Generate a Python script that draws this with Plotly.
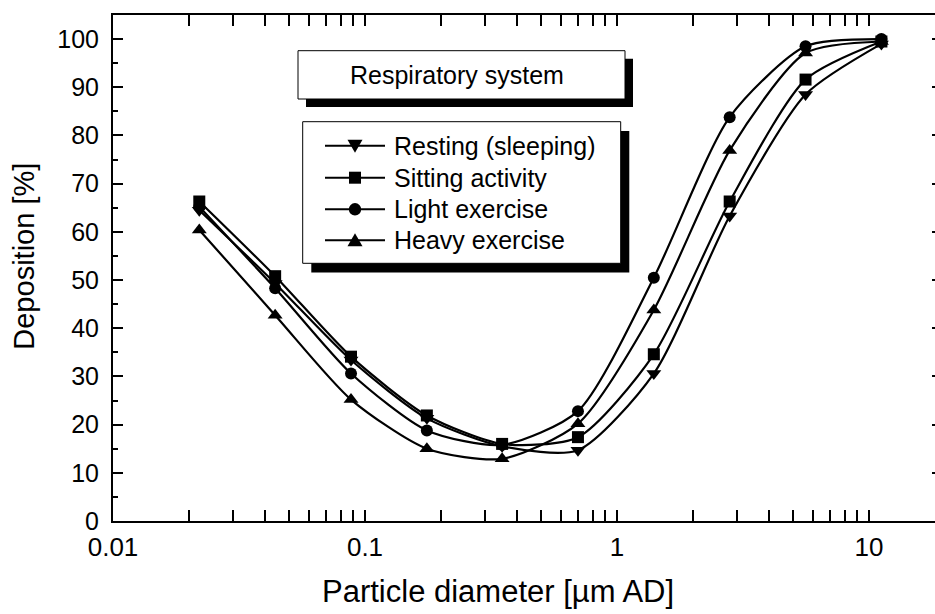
import plotly.graph_objects as go

# Particle aerodynamic diameter (µm) and total respiratory deposition (%)
diameter = [0.022, 0.044, 0.088, 0.176, 0.35, 0.7, 1.4, 2.8, 5.6, 11.2]

resting = [64.5, 49.3, 33.4, 21.3, 15.5, 14.7, 30.6, 63.3, 88.5, 99.0]
sitting = [66.3, 50.8, 34.1, 21.9, 16.0, 17.4, 34.6, 66.3, 91.6, 99.5]
light = [65.2, 48.3, 30.6, 18.8, 15.8, 22.8, 50.5, 83.8, 98.5, 100.0]
heavy = [60.4, 42.7, 25.2, 15.0, 12.9, 20.2, 43.8, 76.9, 97.1, 99.5]

series_names = ["Resting (sleeping)", "Sitting activity", "Light exercise", "Heavy exercise"]
series_values = [resting, sitting, light, heavy]
series_symbols = ["triangle-down", "square", "circle", "triangle-up"]
series_sizes = [13, 12, 12, 13]

x_tick_vals = [0.01, 0.1, 1, 10]
x_tick_text = ["0.01", "0.1", "1", "10"]

FONT = "Liberation Sans, Arial, Helvetica, sans-serif"
W, H = 935, 614
ML, MT, MR, MB = 113, 15, 0, 93
PW, PH = W - ML - MR, H - MT - MB


def px_x(p):
    return (p - ML) / PW


def px_y(p):
    return (H - MB - p) / PH


fig = go.Figure()
for name, vals, sym, sz in zip(series_names, series_values, series_symbols, series_sizes):
    fig.add_trace(go.Scatter(
        x=diameter, y=vals, name=name, mode="lines+markers",
        line=dict(color="black", width=2.2, shape="spline", smoothing=0.7),
        marker=dict(symbol=sym, size=sz, color="black", line=dict(width=0)),
        showlegend=False,
    ))

# empty trace so the right-hand tick axis is rendered
fig.add_trace(go.Scatter(x=[], y=[], yaxis="y2", showlegend=False, hoverinfo="skip"))

minor_x = [m * 10 ** e for e in range(-2, 2) for m in range(2, 10)]

fig.update_layout(
    width=W, height=H,
    margin=dict(l=ML, r=MR, t=MT, b=MB, pad=0),
    plot_bgcolor="white", paper_bgcolor="white",
    font=dict(family=FONT, color="black"),
    showlegend=False,
    xaxis=dict(
        type="log", range=[-2, -2 + PW / 252.0],
        tickvals=x_tick_vals, ticktext=x_tick_text,
        ticks="inside", ticklen=11, tickwidth=2, tickcolor="black",
        showline=True, linewidth=2, linecolor="black", mirror="allticks",
        showgrid=False, zeroline=False,
        tickfont=dict(size=26, family=FONT, color="black"),
        ticklabelstandoff=2,
        minor=dict(tickvals=minor_x, ticks="inside", ticklen=5, tickwidth=2,
                   tickcolor="black", showgrid=False),
    ),
    yaxis=dict(
        range=[0, 105], tick0=0, dtick=10,
        ticks="inside", ticklen=10, tickwidth=2, tickcolor="black",
        showline=True, linewidth=2, linecolor="black", mirror=False,
        showgrid=False, zeroline=False,
        tickfont=dict(size=25, family=FONT, color="black"),
        ticklabelstandoff=7,
        minor=dict(dtick=5, tick0=0, ticks="inside", ticklen=5, tickwidth=2,
                   tickcolor="black", showgrid=False),
    ),
    yaxis2=dict(
        overlaying="y", side="right", anchor="x", range=[0, 105], tick0=0, dtick=10,
        ticks="inside", ticklen=3, tickwidth=2, tickcolor="black",
        showline=False, showgrid=False, zeroline=False, showticklabels=False,
    ),
)


def box_with_shadow(x0, y0, x1, y1, dx, dy):
    fig.add_shape(type="rect", xref="paper", yref="paper",
                  x0=px_x(x0 + dx), x1=px_x(x1 + dx), y0=px_y(y1 + dy), y1=px_y(y0 + dy),
                  fillcolor="black", line=dict(width=0), layer="above")
    fig.add_shape(type="rect", xref="paper", yref="paper",
                  x0=px_x(x0), x1=px_x(x1), y0=px_y(y1), y1=px_y(y0),
                  fillcolor="white", line=dict(color="black", width=1), layer="above")


# header box
box_with_shadow(298, 50.7, 625, 99, 8, 8)
fig.add_annotation(
    text="Respiratory system", xref="paper", yref="paper",
    x=px_x(457), y=px_y(75), xanchor="center", yanchor="middle",
    showarrow=False, font=dict(size=25, family=FONT, color="black"),
)

# key box
box_with_shadow(302.7, 121.7, 620.7, 263.3, 8.6, 9.2)
row_y = [145.7, 177.7, 209.3, 240.3]
key_x0, key_x1, key_cx, text_x = 325, 385, 355, 391.5


def marker_shape(sym, cx, cy):
    common = dict(xref="paper", yref="paper", fillcolor="black",
                  line=dict(width=0), layer="above")
    if sym == "square":
        fig.add_shape(type="rect", x0=px_x(cx - 6), x1=px_x(cx + 6),
                      y0=px_y(cy + 6), y1=px_y(cy - 6), **common)
    elif sym == "circle":
        fig.add_shape(type="circle", x0=px_x(cx - 6.2), x1=px_x(cx + 6.2),
                      y0=px_y(cy + 6.2), y1=px_y(cy - 6.2), **common)
    else:
        s = 1 if sym == "triangle-up" else -1
        pts = [(cx - 7.5, cy + 6 * s), (cx + 7.5, cy + 6 * s), (cx, cy - 7 * s)]
        path = "M " + " L ".join(f"{px_x(a):.5f},{px_y(b):.5f}" for a, b in pts) + " Z"
        fig.add_shape(type="path", path=path, **common)


for name, sym, cy in zip(series_names, series_symbols, row_y):
    fig.add_shape(type="line", xref="paper", yref="paper",
                  x0=px_x(key_x0), x1=px_x(key_x1), y0=px_y(cy), y1=px_y(cy),
                  line=dict(color="black", width=2), layer="above")
    marker_shape(sym, key_cx, cy)
    fig.add_annotation(
        text=name, xref="paper", yref="paper",
        x=px_x(text_x), y=px_y(cy), xanchor="left", yanchor="middle",
        showarrow=False, font=dict(size=25, family=FONT, color="black"),
    )

# axis titles
fig.add_annotation(
    text="Particle diameter [µm AD]", xref="paper", yref="paper",
    x=px_x(498), y=px_y(591), xanchor="center", yanchor="middle",
    showarrow=False, font=dict(size=31, family=FONT, color="black"),
)
fig.add_annotation(
    text="Deposition [%]", xref="paper", yref="paper",
    x=px_x(24), y=px_y(256.7), xanchor="center", yanchor="middle",
    textangle=-90, showarrow=False, font=dict(size=29, family=FONT, color="black"),
)

fig.write_html("out.html")
